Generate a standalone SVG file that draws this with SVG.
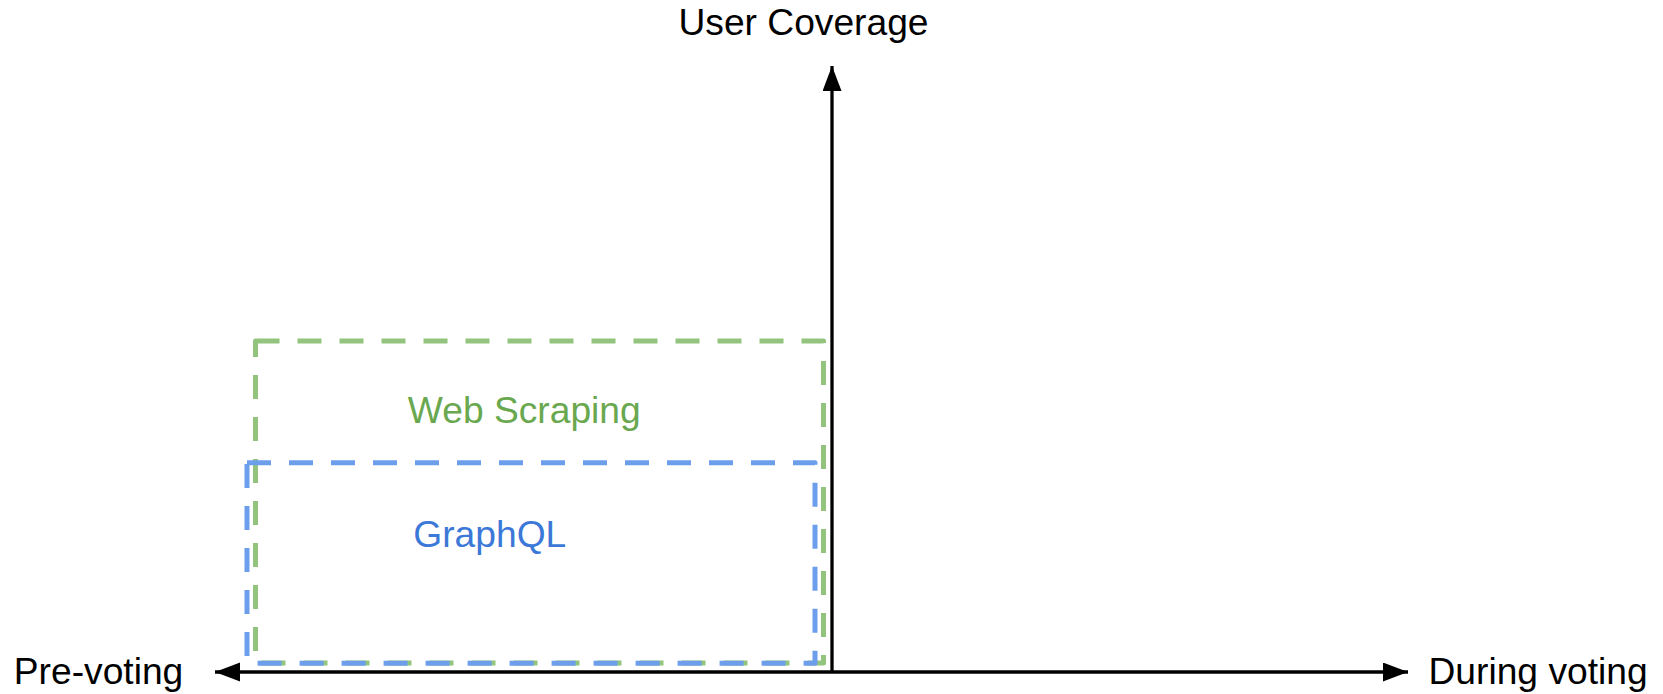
<svg xmlns="http://www.w3.org/2000/svg" width="1663" height="694" viewBox="0 0 1663 694">
  <style>
    .lbl { font-family: "Liberation Sans", Arial, sans-serif; font-size: 37.2px; }
    .axis { stroke: #000; stroke-width: 3.3; fill: none; }
    .box { fill: none; stroke-width: 5; stroke-dasharray: 24 18; stroke-linejoin: round; }
  </style>
  <defs>
    <marker id="ah" markerUnits="userSpaceOnUse" markerWidth="26" markerHeight="20" refX="25" refY="9.5" orient="auto-start-reverse">
      <path d="M0,0 L25,9.5 L0,19 Z" fill="#000"/>
    </marker>
  </defs>
  <rect width="1663" height="694" fill="#fff"/>
  <g id="web-scraping">
    <path class="box" stroke="#93c47d" d="M255.5,341 H823.5 V663 H255.5 Z"/>
    <text class="lbl" x="524.3" y="423.3" text-anchor="middle" fill="#6aa84f">Web Scraping</text>
  </g>
  <g id="graphql">
    <path class="box" stroke="#6d9eeb" d="M247,462.7 H815 V663.3 H247 Z"/>
    <text class="lbl" x="489.8" y="546.7" text-anchor="middle" fill="#3c78d8">GraphQL</text>
  </g>
  <g id="connectors">
    <line class="axis" x1="215" y1="672" x2="1408" y2="672" marker-start="url(#ah)" marker-end="url(#ah)"/>
    <line class="axis" x1="832" y1="672" x2="832" y2="66" marker-end="url(#ah)"/>
  </g>
  <g id="labels">
    <text class="lbl" x="803.5" y="35" text-anchor="middle" fill="#000">User Coverage</text>
    <text class="lbl" x="13.8" y="683.5" fill="#000">Pre-voting</text>
    <text class="lbl" x="1428.5" y="683.5" fill="#000">During voting</text>
  </g>
</svg>
